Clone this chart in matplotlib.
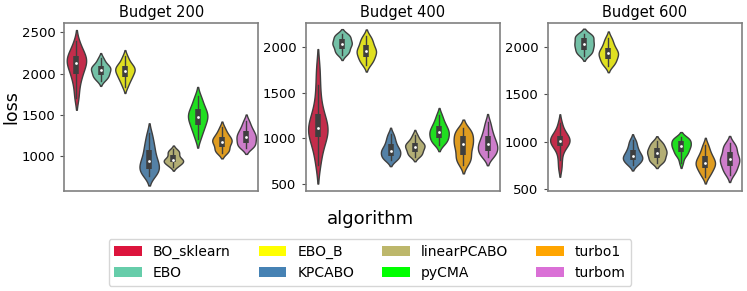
import colorsys
import numpy as np
import matplotlib
matplotlib.use("Agg")
import matplotlib.pyplot as plt
from matplotlib.colors import to_rgb
from matplotlib.patches import Patch

algorithms = ["BO_sklearn", "EBO", "EBO_B", "KPCABO",
              "linearPCABO", "pyCMA", "turbo1", "turbom"]
colors = ["crimson", "mediumaquamarine", "yellow", "steelblue",
          "darkkhaki", "lime", "orange", "orchid"]
budgets = [200, 400, 600]

# loss per run
loss_200 = {
    "BO_sklearn": [1700, 1820, 1920, 1970, 2020, 2070, 2100, 2125, 2150, 2175, 2200, 2230, 2260, 2310, 2390],
    "EBO": [1910, 1940, 1960, 1975, 1990, 2010, 2030, 2044, 2055, 2070, 2085, 2095, 2115, 2150, 2190],
    "EBO_B": [1840, 1890, 1930, 1950, 1975, 2000, 2020, 2035, 2050, 2065, 2085, 2095, 2120, 2160, 2210],
    "KPCABO": [760, 790, 810, 830, 855, 880, 910, 934, 960, 1000, 1050, 1090, 1140, 1200, 1280],
    "linearPCABO": [870, 890, 905, 920, 930, 940, 948, 954, 965, 985, 1005, 1030, 1045, 1060, 1080],
    "pyCMA": [1210, 1280, 1330, 1360, 1400, 1430, 1455, 1478, 1500, 1525, 1550, 1580, 1620, 1670, 1730],
    "turbo1": [1040, 1055, 1070, 1090, 1120, 1150, 1165, 1176, 1190, 1205, 1225, 1240, 1270, 1300, 1350],
    "turbom": [1100, 1115, 1130, 1145, 1170, 1195, 1215, 1229, 1245, 1265, 1290, 1310, 1340, 1380, 1430],
}
loss_400 = {
    "BO_sklearn": [710, 830, 930, 1000, 1030, 1060, 1090, 1115, 1140, 1180, 1240, 1300, 1420, 1580, 1770],
    "EBO": [1910, 1935, 1950, 1965, 1990, 2010, 2025, 2036, 2045, 2060, 2080, 2100, 2115, 2130, 2140],
    "EBO_B": [1800, 1835, 1860, 1875, 1900, 1925, 1940, 1953, 1965, 1985, 2010, 2036, 2060, 2090, 2120],
    "KPCABO": [760, 775, 790, 800, 820, 840, 855, 864, 875, 895, 920, 945, 975, 1010, 1050],
    "linearPCABO": [800, 815, 830, 845, 865, 880, 895, 908, 918, 930, 942, 950, 975, 1000, 1040],
    "pyCMA": [930, 955, 975, 990, 1010, 1035, 1050, 1064, 1080, 1100, 1120, 1145, 1170, 1210, 1260],
    "turbo1": [710, 750, 780, 800, 840, 880, 910, 933, 955, 980, 1010, 1035, 1060, 1085, 1110],
    "turbom": [790, 815, 835, 855, 875, 895, 915, 933, 950, 975, 1005, 1035, 1070, 1120, 1180],
}
loss_600 = {
    "BO_sklearn": [720, 810, 890, 940, 960, 980, 995, 1008, 1020, 1035, 1050, 1068, 1090, 1130, 1200],
    "EBO": [1910, 1935, 1950, 1962, 1985, 2005, 2020, 2032, 2045, 2065, 2085, 2102, 2115, 2130, 2140],
    "EBO_B": [1800, 1825, 1845, 1862, 1885, 1905, 1920, 1933, 1945, 1960, 1980, 2003, 2030, 2065, 2100],
    "KPCABO": [755, 770, 790, 805, 815, 830, 840, 850, 865, 885, 905, 927, 955, 990, 1020],
    "linearPCABO": [775, 790, 805, 822, 840, 860, 875, 885, 898, 912, 930, 945, 965, 985, 1005],
    "pyCMA": [780, 845, 870, 882, 905, 925, 942, 955, 965, 978, 995, 1015, 1025, 1035, 1045],
    "turbo1": [630, 665, 690, 715, 735, 752, 768, 779, 795, 815, 835, 857, 885, 925, 970],
    "turbom": [650, 685, 710, 733, 760, 785, 800, 814, 830, 850, 880, 910, 935, 960, 985],
}
all_loss = [loss_200, loss_400, loss_600]
ylims = [(576, 2616), (423, 2263), (479, 2257)]
yticks = [[1000, 1500, 2000, 2500], [500, 1000, 1500, 2000], [500, 1000, 1500, 2000]]


def desaturate(c, prop=0.75):
    h, l, s = colorsys.rgb_to_hls(*to_rgb(c))
    return colorsys.hls_to_rgb(h, l, s * prop)


def violin(ax, pos, vals, color, width=0.8, cut=1.6, bw_adjust=0.8):
    vals = np.asarray(vals, dtype=float)
    n = len(vals)
    bw = vals.std(ddof=1) * n ** (-1 / 5) * bw_adjust
    y = np.linspace(vals.min() - cut * bw, vals.max() + cut * bw, 200)
    dens = np.exp(-0.5 * ((y[:, None] - vals[None, :]) / bw) ** 2).sum(axis=1)
    dens = dens / dens.max() * width / 2
    ax.fill_betweenx(y, pos - dens, pos + dens, facecolor=desaturate(color),
                     edgecolor="#3f3f3f", linewidth=1, zorder=2)
    q1, med, q3 = np.percentile(vals, [25, 50, 75])
    iqr = q3 - q1
    lo = vals[vals >= q1 - 1.5 * iqr].min()
    hi = vals[vals <= q3 + 1.5 * iqr].max()
    ax.plot([pos, pos], [lo, hi], color="#3f3f3f", lw=1, zorder=3)
    ax.plot([pos, pos], [q1, q3], color="#3f3f3f", lw=4, solid_capstyle="butt", zorder=3)
    ax.scatter([pos], [med], s=4, color="white", zorder=4, linewidths=0)


fig = plt.figure(figsize=(7.47, 2.91), dpi=100)
lefts = [64.3 / 747, 305.7 / 747, 547.7 / 747]
for i, left in enumerate(lefts):
    ax = fig.add_axes([left, 0.3436, 194 / 747, 0.578])
    data = all_loss[i]
    for j, alg in enumerate(algorithms):
        violin(ax, j, data[alg], colors[j])
    ax.set_xlim(-0.5, len(algorithms) - 0.5)
    ax.set_ylim(*ylims[i])
    ax.set_yticks(yticks[i])
    ax.set_xticks([])
    ax.tick_params(axis="y", labelsize=9.5, length=3, color="0.3")
    for sp in ax.spines.values():
        sp.set_color("0.5")
        sp.set_linewidth(1.2)
    ax.set_title(f"Budget {budgets[i]}", fontsize=10.5, pad=4)
    if i == 0:
        ax.set_ylabel("loss", fontsize=12.5, labelpad=1)

fig.text(370 / 747, 1 - 218.5 / 291, "algorithm", fontsize=13, ha="center", va="center")

handles = [Patch(facecolor=c, edgecolor="none", label=a) for a, c in zip(algorithms, colors)]
fig.legend(handles=handles, ncol=4, loc="center", fontsize=10,
           bbox_to_anchor=(370 / 747, 1 - 262.5 / 291), columnspacing=2.0)

fig.savefig("out.png", dpi=100)
